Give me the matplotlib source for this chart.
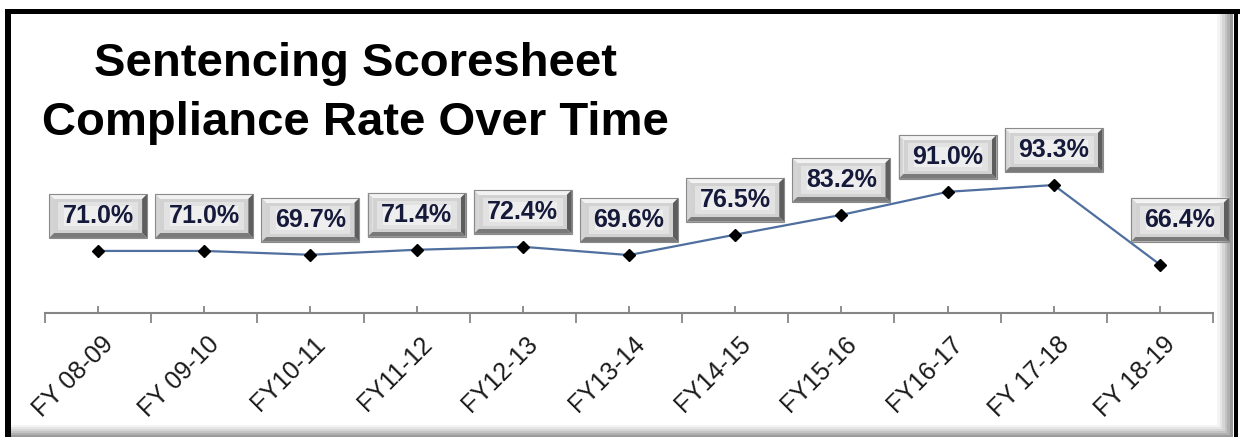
"""Sentencing scoresheet compliance rate - Excel-style line chart with bevelled data labels."""
import matplotlib

matplotlib.use("Agg")

import matplotlib.pyplot as plt  # noqa: E402
from matplotlib.patches import Polygon, Rectangle  # noqa: E402
from matplotlib.transforms import IdentityTransform  # noqa: E402

# --- data -----------------------------------------------------------------
years = ["FY 08-09", "FY 09-10", "FY10-11", "FY11-12", "FY12-13", "FY13-14",
         "FY14-15", "FY15-16", "FY16-17", "FY 17-18", "FY 18-19"]
rates = [71.0, 71.0, 69.7, 71.4, 72.4, 69.6, 76.5, 83.2, 91.0, 93.3, 66.4]

W, H, DPI = 1240, 437, 100
plt.rcParams["font.family"] = ["Liberation Sans", "DejaVu Sans"]

fig = plt.figure(figsize=(W / DPI, H / DPI), dpi=DPI)
fig.patch.set_facecolor("white")

# plot area in pixels: x 45..1213, axis line at y=313 (from top)
ax = fig.add_axes([45 / W, (H - 313) / H, 1168 / W, 263 / H])
ax.set_facecolor("none")
x = list(range(len(years)))
ax.plot(x, rates, color="#4f6f9f", lw=1.6, marker="D", ms=6.5,
        mfc="black", mec="black", zorder=3)
ax.set_xlim(-0.5, len(years) - 0.5)
ax.set_ylim(50, 139)

for side in ("top", "left", "right"):
    ax.spines[side].set_visible(False)
ax.spines["bottom"].set_color("#868686")
ax.spines["bottom"].set_linewidth(1.5)
ax.set_yticks([])

# boundary ticks point down, centre ticks point up (Excel category axis look)
ax.set_xticks([i - 0.5 for i in range(len(years) + 1)])
ax.set_xticklabels([])
ax.tick_params(axis="x", which="major", direction="out", length=7, width=1.3, color="#868686")
ax.set_xticks(x, minor=True)
ax.tick_params(axis="x", which="minor", direction="in", length=5, width=1.3, color="#868686")
ax.set_xticklabels([], minor=True)

for i, lab in enumerate(years):
    ax.annotate(lab, xy=(i, 0), xycoords=("data", "axes fraction"),
                xytext=(3, -19), textcoords="offset pixels",
                rotation=45, rotation_mode="anchor", ha="right", va="top",
                fontsize=18, color="#1a1a1a")


def bevel_label(cx, cy, text, w=98, h=44, b=5):
    """Bevelled grey button centred at display pixel (cx, cy)."""
    x0, x1, y0, y1 = cx - w / 2, cx + w / 2, cy - h / 2, cy + h / 2
    tr = IdentityTransform()
    kw = dict(transform=tr, lw=0, zorder=5)
    # top & left light, bottom & right dark
    fig.patches.append(Polygon([(x0, y1), (x1, y1), (x1 - b, y1 - b), (x0 + b, y1 - b)],
                               fc="#f2f2f2", **kw))
    fig.patches.append(Polygon([(x0, y0), (x0, y1), (x0 + b, y1 - b), (x0 + b, y0 + b)],
                               fc="#d4d4d4", **kw))
    fig.patches.append(Polygon([(x0, y0), (x1, y0), (x1 - b, y0 + b), (x0 + b, y0 + b)],
                               fc="#7a7a7a", **kw))
    fig.patches.append(Polygon([(x1, y0), (x1, y1), (x1 - b, y1 - b), (x1 - b, y0 + b)],
                               fc="#5e5e5e", **kw))
    fig.patches.append(Rectangle((x0 + b, y0 + b), w - 2 * b, h - 2 * b,
                                 fc="#d2d2d2", **kw))
    fig.patches.append(Rectangle((x0 + b + 4, y0 + b + 3), w - 2 * b - 8, h - 2 * b - 6,
                                 fc="#e2e2e2", **kw))
    fig.patches.append(Rectangle((x0 + b + 10, y0 + b + 7), w - 2 * b - 20, h - 2 * b - 14,
                                 fc="#eeeeee", **kw))
    fig.patches.append(Rectangle((x0, y0), w, h, fill=False, ec="#8a8a8a", lw=0.8,
                                 transform=tr, zorder=5))
    fig.text(cx / W, cy / H, text, ha="center", va="center", fontsize=18,
             fontweight="bold", color="#15193a", zorder=6)


for i, v in enumerate(rates):
    px, py = ax.transData.transform((i, v))
    dx, dy = (20, 45) if i == len(rates) - 1 else (0, 35)
    bevel_label(px + dx, py + dy, f"{v:.1f}%")

# title
fig.text(355 / W, 1 - 76 / H, "Sentencing Scoresheet", ha="center", va="baseline",
         fontsize=34, fontweight="bold", color="black")
fig.text(355 / W, 1 - 135 / H, "Compliance Rate Over Time", ha="center", va="baseline",
         fontsize=34, fontweight="bold", color="black")

# outer frame: inner shadow on right/bottom, thick black border
tr = IdentityTransform()
for k, g in enumerate(["#f4f4f4", "#e6e6e6", "#d6d6d6", "#c4c4c4", "#b0b0b0", "#9a9a9a"]):
    off = 16 - k * 2.5
    fig.patches.append(Rectangle((W - 7 - off, 0), off, H - 12, fc=g, lw=0, transform=tr, zorder=1))
    fig.patches.append(Rectangle((8, 0), W - 15, 12 - k * 2, fc=g, lw=0, transform=tr, zorder=1))
fig.patches.append(Rectangle((5, H - 14), 6, -H, fc="black", lw=0, transform=tr, zorder=2))
fig.patches.append(Rectangle((5, H - 14), W - 5, 5, fc="black", lw=0, transform=tr, zorder=2))
fig.patches.append(Rectangle((W - 6, 0), 4, H - 9, fc="black", lw=0, transform=tr, zorder=2))

fig.savefig("out.png", dpi=DPI)
